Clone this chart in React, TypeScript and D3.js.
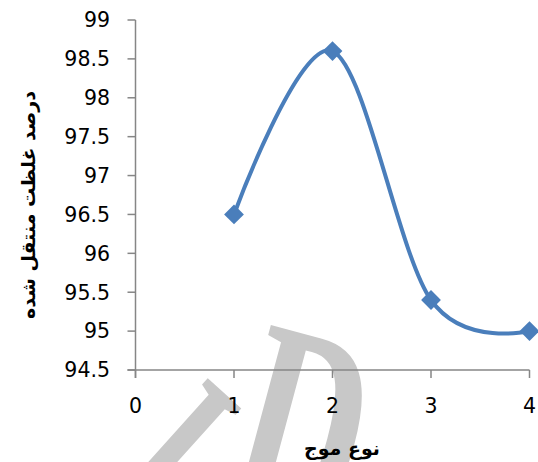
import React from "react";
import * as d3 from "d3";

const xValues = [1, 2, 3, 4];
const yValues = [96.5, 98.6, 95.4, 95.0];
const xTicks = [0, 1, 2, 3, 4];
const yTicks = [94.5, 95, 95.5, 96, 96.5, 97, 97.5, 98, 98.5, 99];
const yTitle = "درصد غلظت منتقل شده";
const xTitle = "نوع موج";

const W = 538;
const H = 462;
const left = 135.5;
const right = 529.5;
const top = 20;
const bottom = 370;

export default function App() {
  const x = d3.scaleLinear().domain([0, 4]).range([left, right]);
  const y = d3.scaleLinear().domain([94.5, 99]).range([bottom, top]);
  const pts: [number, number][] = xValues.map((v, i) => [x(v), y(yValues[i])]);
  const line = d3.line().curve(d3.curveCatmullRom.alpha(0))(pts) || "";
  const axisColor = "#868686";
  const blue = "#4a7ebb";
  const num = "'DejaVu Sans', sans-serif";
  const wmFont = "'Liberation Serif', 'DejaVu Serif', serif";
  return (
    <svg
      width={W}
      height={H}
      style={{ position: "absolute", left: 0, top: 0, background: "#fff" }}
    >
      <rect x={0} y={0} width={W} height={H} fill="#fff" />
      {/* watermark */}
      <text
        transform="translate(100,491) rotate(42) scale(1,1.7)"
        fontFamily={wmFont}
        fontWeight="bold"
        fontSize={140}
        fill="#c8c8c8"
      >
        I
      </text>
      <text
        transform="translate(219,507) rotate(15) scale(1,1.7)"
        fontFamily={wmFont}
        fontWeight="bold"
        fontSize={170}
        fill="#c8c8c8"
      >
        D
      </text>
      {/* y axis */}
      <line x1={left} x2={left} y1={top} y2={bottom + 8} stroke={axisColor} strokeWidth={1.5} />
      {yTicks.map((t) => (
        <g key={t}>
          <line x1={left - 8} x2={left} y1={y(t)} y2={y(t)} stroke={axisColor} strokeWidth={1.5} />
          <text
            x={110}
            y={y(t)}
            dy="0.36em"
            textAnchor="end"
            fontFamily={num}
            fontSize={20.5}
            fill="#000"
          >
            {t}
          </text>
        </g>
      ))}
      {/* x axis */}
      <line x1={left - 8} x2={right} y1={bottom} y2={bottom} stroke={axisColor} strokeWidth={1.5} />
      {xTicks.map((t) => (
        <g key={t}>
          <line x1={x(t)} x2={x(t)} y1={bottom} y2={bottom + 8} stroke={axisColor} strokeWidth={1.5} />
          <text
            x={x(t)}
            y={413}
            textAnchor="middle"
            fontFamily={num}
            fontSize={20.5}
            fill="#000"
          >
            {t}
          </text>
        </g>
      ))}
      <path d={line} fill="none" stroke={blue} strokeWidth={4} />
      {pts.map(([px, py], i) => (
        <rect
          key={i}
          x={px - 7}
          y={py - 7}
          width={14}
          height={14}
          fill={blue}
          transform={`rotate(45,${px},${py})`}
        />
      ))}
      <text
        x={342}
        y={455}
        textAnchor="middle"
        fontFamily="'DejaVu Sans', sans-serif"
        fontWeight="bold"
        fontSize={19}
        fill="#000"
        direction="rtl"
      >
        {xTitle}
      </text>
      <text
        transform="translate(28,205) rotate(-90)"
        textAnchor="middle"
        dy="0.35em"
        fontFamily="'DejaVu Sans', sans-serif"
        fontWeight="bold"
        fontSize={19}
        fill="#000"
        direction="rtl"
      >
        {yTitle}
      </text>
    </svg>
  );
}
